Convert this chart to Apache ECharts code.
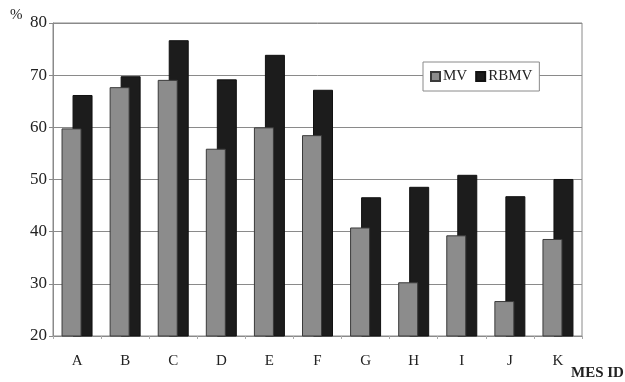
<!DOCTYPE html>
<html><head><meta charset="utf-8">
<script src="https://cdn.jsdelivr.net/npm/echarts@6/dist/echarts.min.js"></script>
<style>html,body{margin:0;padding:0;background:#fff}#c{width:625px;height:382px}</style>
</head><body><div id="c"></div>
<script>
var categories = ['A','B','C','D','E','F','G','H','I','J','K'];
var mvValues = [59.8, 67.7, 69.1, 55.9, 60.0, 58.5, 40.8, 30.3, 39.3, 26.7, 38.6];
var rbmvValues = [66.2, 69.8, 76.7, 69.2, 73.9, 67.2, 46.6, 48.6, 50.9, 46.8, 50.1];
var yTicks = [20, 30, 40, 50, 60, 70, 80];

var serif = '"Liberation Serif", "DejaVu Serif", serif';
var chart = echarts.init(document.getElementById('c'), null, {renderer: 'canvas'});
chart.setOption({
  animation: false,
  backgroundColor: '#fff',
  grid: {left: 53, right: 43, top: 23, bottom: 46, show: true, borderColor: '#8a8a8a', borderWidth: 1},
  legend: {
    data: ['MV', 'RBMV'],
    left: 423, top: 62,
    orient: 'horizontal',
    backgroundColor: '#fff',
    borderColor: '#8a8a8a', borderWidth: 1,
    padding: [7, 7, 7, 7],
    icon: 'rect', itemWidth: 9, itemHeight: 9, itemGap: 8,
    textStyle: {fontFamily: serif, fontSize: 15, color: '#222', padding: [0, 0, 0, -2]}
  },
  xAxis: {
    type: 'category', data: categories,
    axisLine: {lineStyle: {color: '#8a8a8a'}},
    axisTick: {show: true, length: 3, lineStyle: {color: '#aaa'}},
    axisLabel: {fontFamily: serif, fontSize: 15, color: '#222', margin: 18}
  },
  yAxis: {
    type: 'value', min: yTicks[0], max: yTicks[yTicks.length - 1], interval: 10,
    axisLine: {show: true, lineStyle: {color: '#8a8a8a'}},
    axisTick: {show: true, length: 4, lineStyle: {color: '#8a8a8a'}},
    splitLine: {lineStyle: {color: '#8a8a8a', width: 1}},
    axisLabel: {fontFamily: serif, fontSize: 17, color: '#222', margin: 6}
  },
  series: [
    {name: 'MV', type: 'bar', data: mvValues, barWidth: 20, barGap: '-45%', z: 3,
     itemStyle: {color: '#8c8c8c', borderColor: '#3a3a3a', borderWidth: 1}},
    {name: 'RBMV', type: 'bar', data: rbmvValues, barWidth: 20, z: 2,
     itemStyle: {color: '#1c1c1c', borderColor: '#111', borderWidth: 1}}
  ],
  graphic: [
    {type: 'text', left: 10, top: 8, style: {text: '%', fontFamily: serif, fontSize: 15, fill: '#222'}},
    {type: 'text', left: 571, top: 366, style: {text: 'MES ID', fontFamily: serif, fontSize: 15, fontWeight: 'bold', fill: '#222'}}
  ]
});
</script></body></html>
